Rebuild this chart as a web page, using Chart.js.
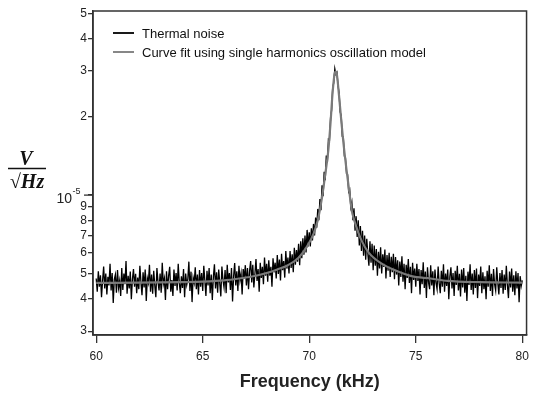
<!DOCTYPE html>
<html>
<head>
<meta charset="utf-8">
<script src="https://cdn.jsdelivr.net/npm/chart.js@4.4.1/dist/chart.umd.min.js"></script>
<style>
  body { margin: 0; background: #fff; }
  #wrap { width: 535px; height: 396px; }
</style>
</head>
<body>
<div id="wrap"><canvas id="chart_thermalNoise" width="535" height="396"></canvas></div>
<script>
// values in units of 1e-6 V/sqrt(Hz), frequency in kHz
var noiseStart = 60, noiseStep = 0.05;
var noiseValues = [
  4.78, 4.25, 5.10, 4.45, 4.92, 4.05, 4.70, 5.32, 4.38, 5.00, 4.15, 4.85, 4.50, 5.45, 4.30, 5.02, 3.85, 4.75, 4.95, 4.22,
  5.15, 4.40, 4.68, 4.10, 5.25, 4.32, 5.00, 4.55, 5.58, 4.18, 4.90, 4.38, 5.08, 3.98, 4.75, 5.20, 4.45, 4.98, 4.20, 4.82,
  4.35, 5.35, 4.62, 4.12, 5.05, 4.42, 5.18, 3.92, 4.80, 4.60, 5.40, 4.25, 4.95, 4.18, 5.12, 4.50, 4.05, 5.25, 4.65, 4.30,
  5.00, 4.22, 5.50, 4.55, 4.78, 3.95, 5.10, 4.35, 4.90, 5.30, 4.25, 4.72, 4.10, 5.18, 4.48, 5.02, 4.30, 5.45, 4.60, 4.20,
  4.88, 4.40, 5.20, 4.05, 5.00, 4.52, 4.75, 5.55, 4.28, 5.08, 3.88, 4.82, 4.60, 5.28, 4.35, 4.95, 4.15, 5.15, 4.45, 5.02,
  4.28, 5.35, 4.68, 4.10, 5.12, 4.50, 5.25, 4.20, 4.95, 3.95, 4.85, 5.42, 4.38, 5.05, 4.22, 5.18, 4.58, 4.08, 5.32, 4.72,
  4.42, 5.15, 4.20, 5.40, 4.62, 5.02, 4.32, 5.25, 3.90, 4.88, 5.48, 4.50, 5.10, 4.28, 5.35, 4.70, 5.00, 4.15, 5.20, 4.78,
  5.38, 4.50, 5.25, 4.35, 5.12, 5.58, 4.62, 5.40, 4.42, 5.00, 5.68, 4.68, 5.20, 4.25, 5.50, 4.80, 5.30, 4.55, 5.75, 4.90,
  5.45, 4.65, 5.62, 4.90, 5.30, 4.45, 5.72, 5.05, 5.50, 4.78, 5.88, 4.98, 5.65, 4.70, 5.95, 5.15, 5.58, 4.82, 6.10, 5.22,
  5.75, 5.00, 6.10, 5.25, 5.92, 5.05, 6.28, 5.40, 6.15, 5.55, 6.50, 5.38, 6.65, 5.72, 6.82, 5.90, 7.00, 6.02, 7.35, 6.35,
  7.20, 6.35, 7.45, 6.70, 7.75, 7.00, 8.20, 7.50, 8.85, 8.00, 9.65, 8.75, 10.9, 9.9, 12.3, 11.4, 14.2, 13.3, 16.4, 16.3,
  19.8, 21.2, 25.9, 27.0, 30.6, 29.1, 29.6, 26.3, 24.8, 20.9, 20.2, 16.8, 16.7, 14.1, 13.9, 12.1, 12.0, 10.3, 10.5, 9.0,
  9.4, 8.0, 8.9, 7.3, 8.3, 6.9, 8.0, 6.4, 7.6, 6.1, 7.3, 5.85, 7.0, 5.65, 6.8, 5.95, 5.35, 6.65, 5.50, 6.50,
  5.15, 6.40, 5.35, 6.20, 4.90, 6.05, 5.22, 6.30, 5.00, 5.92, 5.30, 6.18, 4.78, 5.88, 5.12, 6.00, 4.85, 5.80, 5.05, 5.95,
  4.75, 5.78, 4.95, 5.62, 4.50, 5.55, 4.85, 5.82, 4.65, 5.45, 4.35, 5.40, 4.80, 5.68, 4.60, 5.30, 4.20, 5.50, 4.72, 5.22,
  4.45, 5.45, 4.68, 5.20, 4.15, 5.15, 4.55, 5.52, 4.40, 5.08, 4.02, 5.28, 4.62, 4.35, 5.38, 4.50, 5.10, 4.12, 5.18, 4.60,
  4.35, 5.32, 4.58, 4.20, 5.12, 4.45, 5.42, 4.25, 5.00, 4.48, 5.18, 3.98, 4.88, 5.28, 4.38, 5.02, 4.10, 5.12, 4.52, 5.35,
  4.30, 4.98, 4.08, 5.18, 4.42, 5.25, 4.22, 4.90, 3.92, 5.08, 4.52, 5.42, 4.32, 5.00, 4.15, 5.15, 4.40, 5.22, 4.02, 4.95,
  4.48, 5.32, 4.20, 5.05, 4.35, 4.88, 3.98, 5.12, 4.45, 5.38, 4.28, 4.98, 4.10, 5.20, 4.55, 4.30, 5.28, 4.60, 4.15, 5.02,
  4.40, 5.15, 4.18, 4.95, 4.32, 5.35, 4.52, 4.02, 5.08, 4.42, 5.22, 4.25, 4.92, 4.12, 5.10, 4.38, 5.02, 3.88, 4.88, 4.48,
  4.70
];

var fitFreq = [60, 62, 64, 65, 66, 66.7, 67.5, 68, 68.5, 69, 69.5, 69.9, 70.2, 70.4, 70.6, 70.75, 70.9, 71, 71.1, 71.2, 71.25,
  71.3, 71.4, 71.5, 71.6, 71.75, 71.9, 72, 72.2, 72.45, 72.8, 73.4, 74, 74.8, 75.7, 76.5, 78, 80];
var fitValues = [4.60, 4.61, 4.63, 4.65, 4.70, 4.78, 4.90, 5.02, 5.18, 5.38, 5.75, 6.35, 7.1, 8.0, 9.8, 12.0, 15.0, 19.0, 25.0, 29.5, 29.8,
  29.0, 24.0, 19.5, 16.0, 12.5, 10.0, 8.7, 7.6, 6.7, 6.0, 5.45, 5.15, 4.88, 4.78, 4.68, 4.63, 4.61];

var xTicks = [60, 65, 70, 75, 80];
var yTicks = [3e-6, 4e-6, 5e-6, 6e-6, 7e-6, 8e-6, 9e-6, 1e-5, 2e-5, 3e-5, 4e-5, 5e-5];
var yTickLabels = ['3', '4', '5', '6', '7', '8', '9', '', '2', '3', '4', '5'];
var seriesLabels = ['Thermal noise', 'Curve fit using single harmonics oscillation model'];

var noiseData = noiseValues.map(function (v, i) {
  return {x: noiseStart + i * noiseStep, y: v * 1e-6};
});
var fitData = fitFreq.map(function (f, i) {
  return {x: f, y: fitValues[i] * 1e-6};
});

var FONT = "'Liberation Sans', Arial, sans-serif";
Chart.defaults.font.family = FONT;
Chart.defaults.color = '#222';

var chart_thermalNoise = new Chart(document.getElementById('chart_thermalNoise'), {
    type: 'line',
    data: {
        datasets: [
            {
                label: seriesLabels[0],
                data: noiseData,
                borderColor: '#000',
                borderWidth: 1.3,
                pointRadius: 0,
                tension: 0,
                order: 1
            },
            {
                label: seriesLabels[1],
                data: fitData,
                borderColor: '#7a7a7a',
                borderWidth: 2.2,
                pointRadius: 0,
                cubicInterpolationMode: 'monotone',
                order: 0
            }
        ]
    },
    options: {
        animation: false,
        responsive: false,
        layout: { padding: { top: 11, right: 3, left: 0, bottom: 0 } },
        plugins: {
            legend: { display: false },
            tooltip: { enabled: false }
        },
        scales: {
            x: {
                type: 'linear',
                min: 59.85,
                max: 80.2,
                afterBuildTicks: function (scale) {
                    scale.ticks = xTicks.map(function (v) { return {value: v}; });
                },
                afterFit: function (scale) { scale.height = 61; },
                ticks: { font: { size: 12 }, padding: 6, color: '#222', maxRotation: 0 },
                grid: { drawOnChartArea: false, drawTicks: true, tickLength: 8, color: '#333', lineWidth: 1.3 },
                border: { display: true, color: '#333', width: 1.5 },
                title: {
                    display: true,
                    text: 'Frequency (kHz)',
                    font: { size: 18, weight: 'bold' },
                    color: '#222',
                    padding: { top: 0, bottom: 3 }
                }
            },
            y: {
                type: 'logarithmic',
                min: 2.9e-6,
                max: 5.1e-5,
                afterBuildTicks: function (scale) {
                    scale.ticks = yTicks.map(function (v) { return {value: v}; });
                },
                afterFit: function (scale) { scale.width = 93; },
                ticks: {
                    font: { size: 12 },
                    padding: 1,
                    color: '#222',
                    autoSkip: false,
                    callback: function (value, index) { return yTickLabels[index]; }
                },
                grid: { drawOnChartArea: false, drawTicks: true, tickLength: 5, color: '#333', lineWidth: 1.3 },
                border: { display: true, color: '#333', width: 1.5 }
            }
        }
    },
    plugins: [{
        id: 'customPlugin',
        beforeDraw: function (chart) {
            var ctx = chart.ctx;
            ctx.save();
            ctx.fillStyle = 'white';
            ctx.fillRect(0, 0, chart.width, chart.height);
            ctx.restore();
        },
        afterDraw: function (chart) {
            var ctx = chart.ctx;
            var a = chart.chartArea;
            var ys = chart.scales.y;
            ctx.save();
            // frame
            ctx.strokeStyle = '#333';
            ctx.lineWidth = 1.5;
            ctx.strokeRect(a.left, a.top, a.right - a.left, a.bottom - a.top);

            // decade tick and its label 10^-5
            var yd = ys.getPixelForValue(1e-5);
            ctx.lineWidth = 1.3;
            ctx.beginPath();
            ctx.moveTo(a.left - 9, yd);
            ctx.lineTo(a.left, yd);
            ctx.stroke();
            ctx.fillStyle = '#222';
            ctx.textBaseline = 'middle';
            ctx.textAlign = 'right';
            ctx.font = '14px ' + FONT;
            ctx.fillText('10', 72, yd + 4);
            ctx.textAlign = 'left';
            ctx.font = '9px ' + FONT;
            ctx.fillText('-5', 72.5, yd - 4);

            // legend inside plot
            var rows = [{c: '#000', y: 33}, {c: '#7a7a7a', y: 52}];
            ctx.font = '13px ' + FONT;
            ctx.textAlign = 'left';
            rows.forEach(function (r, i) {
                ctx.strokeStyle = r.c;
                ctx.lineWidth = 1.8;
                ctx.beginPath();
                ctx.moveTo(113, r.y);
                ctx.lineTo(134, r.y);
                ctx.stroke();
                ctx.fillStyle = '#111';
                ctx.fillText(seriesLabels[i], 142, r.y + 1);
            });

            // y axis title V / sqrt(Hz)
            ctx.fillStyle = '#111';
            ctx.textAlign = 'center';
            ctx.font = 'italic bold 20px "Liberation Serif", "DejaVu Serif", serif';
            ctx.fillText('V', 26, 160);
            ctx.strokeStyle = '#111';
            ctx.lineWidth = 1.5;
            ctx.beginPath();
            ctx.moveTo(8, 168.5);
            ctx.lineTo(46, 168.5);
            ctx.stroke();
            ctx.fillText('\u221AHz', 27, 183);
            ctx.restore();
        }
    }]
});
</script>
</body>
</html>
